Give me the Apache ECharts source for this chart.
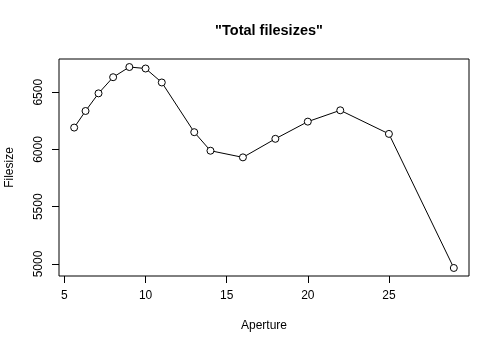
<!DOCTYPE html>
<html><head><meta charset="utf-8">
<script src="https://cdn.jsdelivr.net/npm/echarts@6/dist/echarts.min.js"></script>
<style>html,body{margin:0;padding:0;background:#fff}#c{width:500px;height:350px}</style>
</head><body><div id="c"></div>
<script>
const aperture = [5.6, 6.3, 7.1, 8, 9, 10, 11, 13, 14, 16, 18, 20, 22, 25, 29];
const filesize = [6191, 6336, 6490, 6631, 6720, 6707, 6585, 6151, 5989, 5931, 6093, 6243, 6342, 6136, 4965];
const xTicks = [5, 10, 15, 20, 25];
const yTicks = [5000, 5500, 6000, 6500];
const titleText = '"Total filesizes"';
const xName = 'Aperture';
const yName = 'Filesize';

const font = 'Liberation Sans, Arial, Helvetica, sans-serif';
const chart = echarts.init(document.getElementById('c'), null, {renderer: 'canvas'});
chart.setOption({
  backgroundColor: '#fff',
  animation: false,
  title: {
    text: titleText, left: 264, top: 18, textAlign: 'center',
    textStyle: {fontFamily: font, fontSize: 14.5, fontWeight: 'bold', color: '#000'}
  },
  grid: {left: 59, top: 59, width: 410, height: 217, outerBoundsMode: 'none', containLabel: false, show: true, borderColor: '#000', borderWidth: 1, backgroundColor: 'transparent'},
  xAxis: {
    type: 'value', min: 4.664, max: 29.936,
    name: xName, nameLocation: 'middle', nameGap: 44,
    nameTextStyle: {fontFamily: font, fontSize: 12, color: '#000'},
    axisLine: {show: false},
    splitLine: {show: false},
    axisTick: {show: true, length: 7, inside: false, customValues: xTicks, lineStyle: {color: '#000'}},
    axisLabel: {customValues: xTicks, margin: 14, fontFamily: font, fontSize: 12, color: '#000', formatter: v => String(v)}
  },
  yAxis: {
    type: 'value', min: 4895, max: 6790,
    name: yName, nameLocation: 'middle', nameGap: 43,
    nameTextStyle: {fontFamily: font, fontSize: 12, color: '#000'},
    axisLine: {show: false},
    splitLine: {show: false},
    axisTick: {show: true, length: 7, customValues: yTicks, lineStyle: {color: '#000'}},
    axisLabel: {customValues: yTicks, rotate: 90, margin: 14, fontFamily: font, fontSize: 12, color: '#000', formatter: v => String(v)}
  },
  series: [{
    type: 'line',
    data: aperture.map((a, i) => [a, filesize[i]]),
    symbol: 'circle', symbolSize: 7,
    lineStyle: {color: '#000', width: 1},
    itemStyle: {color: '#fff', borderColor: '#000', borderWidth: 1},
    z: 3
  }]
});
</script></body></html>
